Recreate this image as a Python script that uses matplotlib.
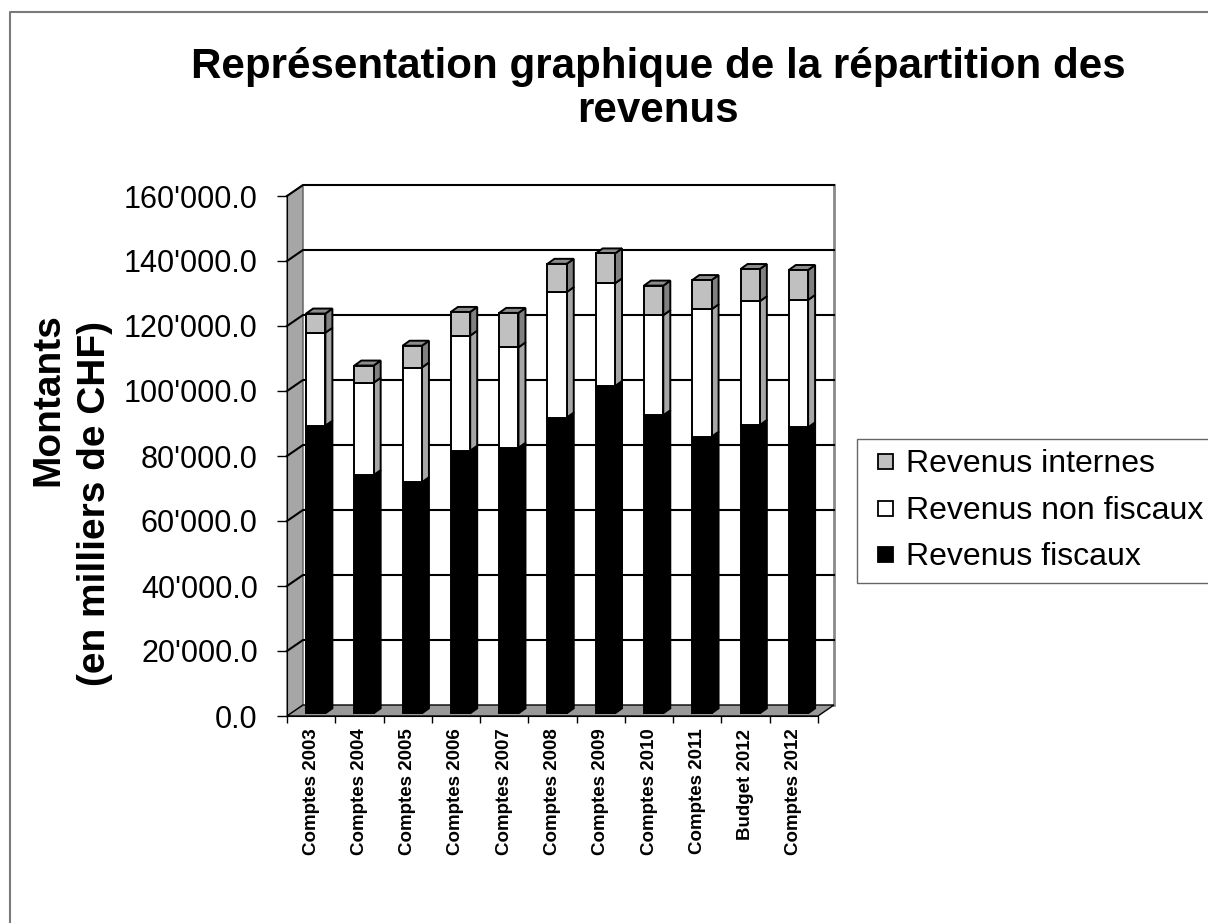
import numpy as np
import matplotlib
matplotlib.use('Agg')
import matplotlib.pyplot as plt
from matplotlib.patches import Polygon
from matplotlib.lines import Line2D
from matplotlib.transforms import Affine2D

plt.rcParams['font.family'] = ['Liberation Sans', 'DejaVu Sans']

# data (en milliers de CHF, stored in CHF thousands * 1000)
categories = ['Comptes 2003', 'Comptes 2004', 'Comptes 2005', 'Comptes 2006',
              'Comptes 2007', 'Comptes 2008', 'Comptes 2009', 'Comptes 2010',
              'Comptes 2011', 'Budget 2012', 'Comptes 2012']
fiscaux = [88500, 73300, 71100, 80800, 81700, 91000, 100700, 91700, 85100, 88700, 88000]
non_fiscaux = [28600, 28400, 35300, 35400, 30900, 38600, 31600, 30800, 39200, 38100, 39200]
internes = [5900, 5300, 6700, 7300, 10600, 8700, 9200, 9100, 9000, 9900, 9200]
yticks = np.arange(0, 160001, 20000)

W, H = 1208, 923
fig = plt.figure(figsize=(W / 100, H / 100), dpi=100)
ax = fig.add_axes([287 / W, 1 - 716 / H, 531 / W, 520 / H])
n = len(categories)
ymax = 160000

# pixel -> data units
px_x = n / 531
px_y = ymax / 520
wx, wy = 16 * px_x, 11 * px_y      # depth of the walls
bx, by = 7 * px_x, 5 * px_y        # depth of a bar
x0, x1 = -0.5, n - 0.5

# back wall
ax.add_patch(Polygon([(x0 + wx, wy), (x1 + wx, wy), (x1 + wx, ymax + wy), (x0 + wx, ymax + wy)],
                     closed=True, fc='white', ec='none', zorder=0.5, clip_on=False))
ax.plot([x1 + wx, x1 + wx], [wy, ymax + wy], color='#8a8a8a', lw=2, zorder=0.6, clip_on=False)
# left wall
ax.add_patch(Polygon([(x0, 0), (x0 + wx, wy), (x0 + wx, ymax + wy), (x0, ymax)],
                     closed=True, fc='#a6a6a6', ec='#5a5a5a', lw=1, zorder=0.6, clip_on=False))
# gridlines
for v in yticks[1:]:
    ax.plot([x0, x0 + wx, x1 + wx], [v, v + wy, v + wy], color='black', lw=1.5,
            zorder=0.7, clip_on=False)
# floor
ax.add_patch(Polygon([(x0, 0), (x1, 0), (x1 + wx, wy), (x0 + wx, wy)],
                     closed=True, fc='#999999', ec='black', lw=1, zorder=0.8, clip_on=False))

# bars
bt = ax.transData + Affine2D().translate(4.6, 2.7)
x = np.arange(n)
w = 0.4
f = np.array(fiscaux)
nf = np.array(non_fiscaux)
it = np.array(internes)
segs = [(np.zeros(n), f, 'black', 'black'),
        (f, f + nf, 'white', '#a6a6a6'),
        (f + nf, f + nf + it, '#c0c0c0', '#808080')]
for bottom, top, fc, side in segs:
    ax.bar(x, top - bottom, bottom=bottom, width=w, color=fc, edgecolor='black',
           lw=1.4, transform=bt, zorder=3, clip_on=False)
    for i in range(n):
        xr = x[i] + w / 2
        ax.add_patch(Polygon([(xr, bottom[i]), (xr + bx, bottom[i] + by),
                              (xr + bx, top[i] + by), (xr, top[i])],
                             closed=True, fc=side, ec='black', lw=1.4,
                             transform=bt, zorder=2.9, clip_on=False))
tot = f + nf + it
for i in range(n):
    xl, xr = x[i] - w / 2, x[i] + w / 2
    ax.add_patch(Polygon([(xl, tot[i]), (xr, tot[i]), (xr + bx, tot[i] + by), (xl + bx, tot[i] + by)],
                         closed=True, fc='#8c8c8c', ec='black', lw=1.4,
                         transform=bt, zorder=2.9, clip_on=False))

ax.set_xlim(x0, x1)
ax.set_ylim(0, ymax)
ax.patch.set_visible(False)
for s in ['top', 'right']:
    ax.spines[s].set_visible(False)
ax.spines['left'].set_color('black')
ax.spines['bottom'].set_color('black')
ax.spines['left'].set_zorder(1)
ax.spines['bottom'].set_zorder(1)

ax.set_yticks(yticks)
ax.set_yticklabels([f"{v // 1000}'000.0" if v else '0.0' for v in yticks], fontsize=22)
ax.tick_params(axis='y', length=7, width=1, pad=14)
ax.set_xticks(x)
ax.set_xticklabels(categories, rotation=90, fontsize=13.5, fontweight='bold', va='top')
ax.set_xticks(np.arange(n + 1) - 0.5, minor=True)
ax.tick_params(axis='x', which='major', length=0, pad=9)
ax.tick_params(axis='x', which='minor', length=5, width=1)

# axis title
fig.text(48 / W, 1 - 400 / H, 'Montants', rotation=90, ha='center', va='center',
         fontsize=28, fontweight='bold')
fig.text(95 / W, 1 - 503 / H, '(en milliers de CHF)', rotation=90, ha='center', va='center',
         fontsize=28, fontweight='bold')

# chart title
fig.text(658 / W, 1 - 89 / H, 'Représentation graphique de la répartition des\nrevenus',
         ha='center', va='center', fontsize=30.3, fontweight='bold', linespacing=1.12)

# legend
handles = [Line2D([], [], ls='none', marker='s', markersize=10.8, markerfacecolor=c,
                  markeredgecolor='black', markeredgewidth=1.3, label=l)
           for c, l in [('#c0c0c0', 'Revenus internes'), ('white', 'Revenus non fiscaux'),
                        ('black', 'Revenus fiscaux')]]
leg = fig.legend(handles=handles, loc='upper left', bbox_to_anchor=(857 / W, 1 - 439 / H),
                 fontsize=23, frameon=True, fancybox=False, edgecolor='#404040',
                 handlelength=1.12, handletextpad=0.09, labelspacing=0.52,
                 borderpad=0.32, borderaxespad=0)
leg.get_frame().set_linewidth(1)

# outer chart border
fig.add_artist(Line2D([10 / W, 10 / W, 1.01], [-0.01, 1 - 12 / H, 1 - 12 / H],
                      transform=fig.transFigure, color='#7a7a7a', lw=1.5))

fig.savefig('out.png', dpi=100)
